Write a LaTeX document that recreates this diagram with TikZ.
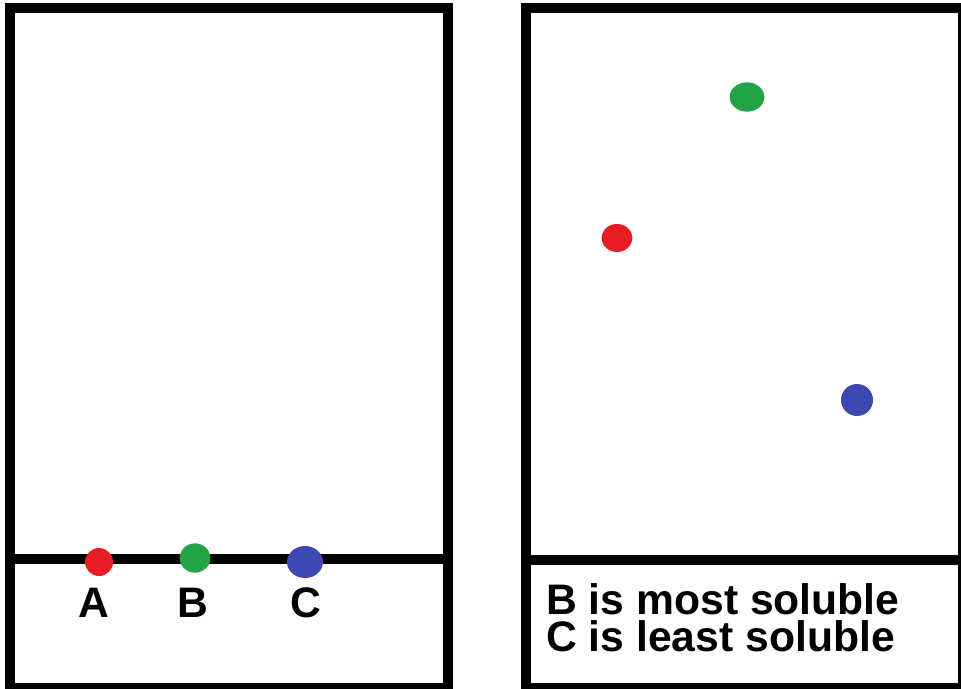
\documentclass[tikz,border=0pt]{standalone}
\usepackage{fontspec}
\setmainfont{Liberation Sans}
\usetikzlibrary{shapes.geometric}
\definecolor{spotred}{RGB}{232,28,36}
\definecolor{spotgreen}{RGB}{34,163,68}
\definecolor{spotblue}{RGB}{62,72,178}
\begin{document}
\begin{tikzpicture}[x=0.75pt,y=-0.75pt,
  frame/.style={line width=7.5pt,draw=black},
  spot/.style={ellipse,inner sep=0pt,draw=none},
  lbl/.style={font=\fontsize{32}{27.75}\selectfont\bfseries,inner sep=0pt,anchor=base}]
\clip (0,0) rectangle (961,689);
\fill[white] (0,0) rectangle (961,689);
% left plate
\draw[frame] (10,8) rectangle (448,688);
\coordinate (l1) at (10,559);
\coordinate (l2) at (448,559);
\draw[frame] (l1) -- (l2);
% right plate
\draw[frame] (526,8) rectangle (963,688);
\coordinate (r1) at (526,560);
\coordinate (r2) at (963,560);
\draw[frame] (r1) -- (r2);
% spots on baseline
\node[spot,fill=spotred,minimum width=21pt,minimum height=21pt] (a) at (99,562) {};
\node[spot,fill=spotgreen,minimum width=23pt,minimum height=22pt] (b) at (195,558) {};
\node[spot,fill=spotblue,minimum width=27pt,minimum height=24pt] (c) at (305,562) {};
\node[lbl] (la) at (94,617) {A};
\node[lbl] (lb) at (193,617) {B};
\node[lbl] (lc) at (306,617) {C};
% developed spots
\node[spot,fill=spotgreen,minimum width=26pt,minimum height=22pt] (b2) at (747,97) {};
\node[spot,fill=spotred,minimum width=23pt,minimum height=21pt] (a2) at (617,238) {};
\node[spot,fill=spotblue,minimum width=24pt,minimum height=24pt] (c2) at (857,400) {};
% conclusions
\node[lbl,anchor=north west,align=left] (t) at (546,583) {B is most soluble\\C is least soluble};
\end{tikzpicture}
\end{document}
